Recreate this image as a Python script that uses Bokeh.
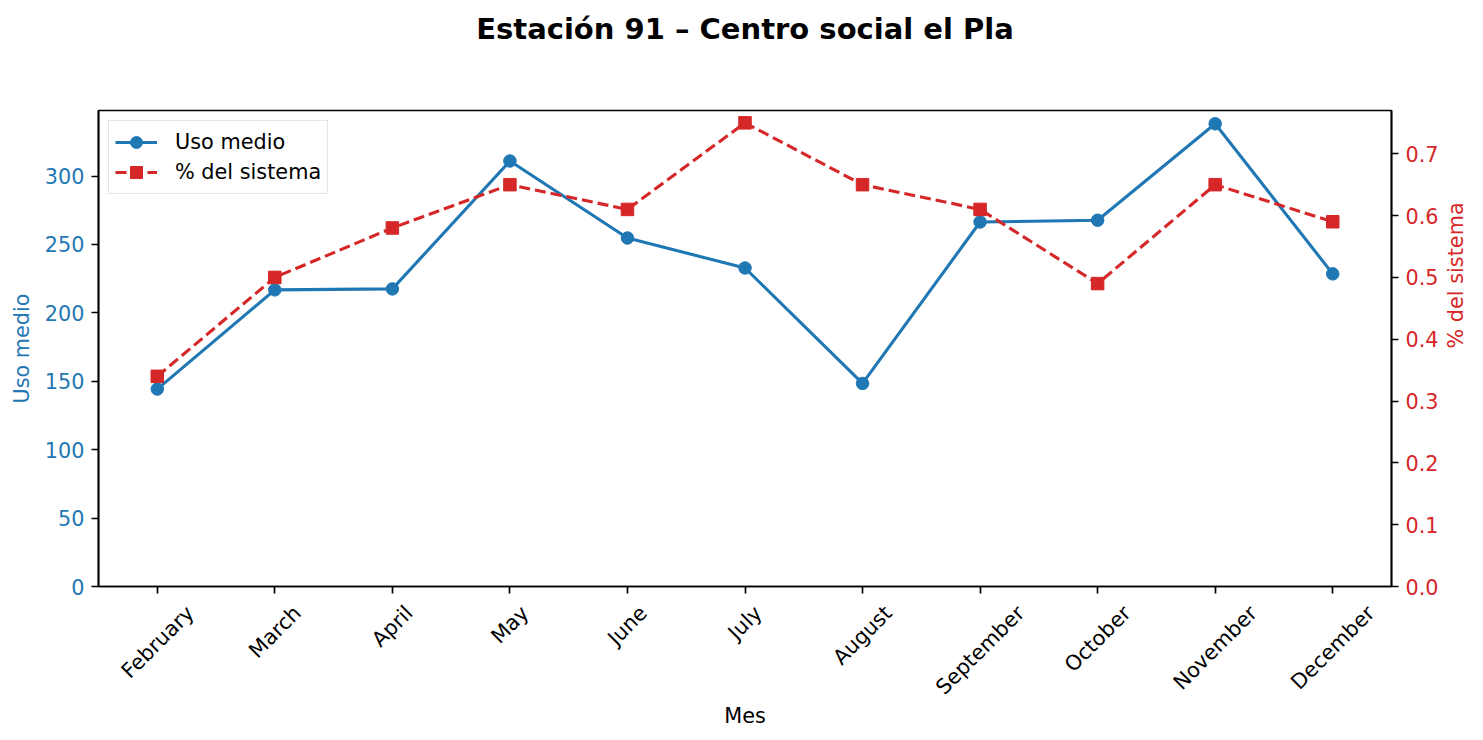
import math
from bokeh.plotting import figure
from bokeh.layouts import column
from bokeh.models import (Range1d, LinearAxis, FixedTicker, Legend, LegendItem,
                          ColumnDataSource, NumeralTickFormatter, CustomJSTickFormatter)
from bokeh.core.properties import value
from bokeh.embed import file_html
from bokeh.resources import INLINE

# ---- data ----
months = ["February", "March", "April", "May", "June", "July", "August",
          "September", "October", "November", "December"]
uso_medio = [144.3, 216.8, 217.5, 311.0, 254.7, 232.8, 148.4, 266.4, 267.7, 338.2, 228.5]
pct_sistema = [0.34, 0.50, 0.58, 0.65, 0.61, 0.75, 0.65, 0.61, 0.49, 0.65, 0.59]
left_ticks = [0, 50, 100, 150, 200, 250, 300]
right_ticks = [0.0, 0.1, 0.2, 0.3, 0.4, 0.5, 0.6, 0.7]

title_text = "Estación 91 – Centro social el Pla"
x_label = "Mes"
left_label = "Uso medio"
right_label = "% del sistema"

# ---- style ----
BLUE = "#1f77b4"
RED = "#d62728"
FONT = "DejaVu Sans"
FS = 20.8
FSPX = "20.8px"
LW_AX = 1.7
FRAME_W = 1293
TITLE_H = 60

# approximate DejaVu Sans advance widths (em), used only to centre rotated labels
CHAR_W = {"F": 0.575, "e": 0.615, "b": 0.635, "r": 0.411, "u": 0.634, "a": 0.613,
          "y": 0.592, "M": 0.863, "c": 0.550, "h": 0.634, "A": 0.684, "p": 0.635,
          "i": 0.278, "l": 0.278, "J": 0.295, "n": 0.634, "g": 0.635, "s": 0.521,
          "t": 0.392, "S": 0.635, "m": 0.974, "O": 0.787, "o": 0.612, "N": 0.748,
          "v": 0.592, "D": 0.770}


def text_w(s):
    return sum(CHAR_W.get(c, 0.6) for c in s) * FS


xs = list(range(len(months)))

# ---- title strip ----
tf = figure(width=1483, height=TITLE_H, output_backend="svg", toolbar_location=None,
            x_range=Range1d(0, 1), y_range=Range1d(0, TITLE_H),
            x_axis_location=None, y_axis_location=None, min_border=0)
tf.outline_line_color = None
tf.xgrid.visible = False
tf.ygrid.visible = False
tf.text(x=[0.5], y=[TITLE_H - 28], text=[title_text], text_align="center",
        text_baseline="middle", text_font=value(FONT), text_font_size=value("29px"),
        text_font_style="bold", text_color="black")

# ---- main chart ----
p = figure(width=1483, height=740 - TITLE_H, output_backend="svg", toolbar_location=None,
           x_range=Range1d(-0.5, len(months) - 0.5),
           y_range=Range1d(0, 347.9),
           min_border_left=98, min_border_right=92,
           min_border_top=110 - TITLE_H, min_border_bottom=154)

p.xgrid.visible = False
p.ygrid.visible = False
p.outline_line_color = "black"
p.outline_line_width = LW_AX
p.background_fill_color = "white"
p.border_fill_color = "white"

p.extra_y_ranges = {"pct": Range1d(0, 0.770)}

# x axis: ticks only
xa = p.xaxis[0]
xa.ticker = FixedTicker(ticks=xs)
xa.major_label_text_font_size = "0px"
xa.major_label_text_color = None

# second x axis: rotated month names, centred under ticks like matplotlib
px_per_unit = FRAME_W / len(months)
label_pos = [x + text_w(m) * math.cos(math.pi / 4) / 2 / px_per_unit
             for x, m in zip(xs, months)]
la = LinearAxis(ticker=FixedTicker(ticks=label_pos),
                formatter=CustomJSTickFormatter(args=dict(names=months),
                                                code="return names[index];"))
la.major_label_orientation = math.pi / 4
la.axis_line_color = None
la.major_tick_line_color = None
la.minor_tick_line_color = None
la.major_tick_out = 0
la.major_tick_in = 0
la.major_label_standoff = 16
la.major_label_text_font = FONT
la.major_label_text_font_size = FSPX
la.major_label_text_color = "black"
la.axis_label = x_label
la.axis_label_text_font = FONT
la.axis_label_text_font_size = FSPX
la.axis_label_text_font_style = "normal"
la.axis_label_text_color = "black"
la.axis_label_standoff = -7
p.add_layout(la, "below")

# left axis
ya = p.yaxis[0]
ya.ticker = FixedTicker(ticks=left_ticks)
ya.major_label_text_color = BLUE
ya.axis_label = left_label
ya.axis_label_text_color = BLUE
ya.axis_label_standoff = 8

# right axis
ra = LinearAxis(y_range_name="pct", ticker=FixedTicker(ticks=right_ticks),
                formatter=NumeralTickFormatter(format="0.0"))
ra.major_label_text_color = RED
ra.axis_label = right_label
ra.axis_label_text_color = RED
ra.axis_label_standoff = 14
if "axis_label_orientation" in ra.properties():
    ra.axis_label_orientation = math.pi / 2
p.add_layout(ra, "right")

for ax in [xa, ya, ra]:
    ax.axis_line_width = LW_AX
    ax.axis_line_color = "black"
    ax.major_tick_line_width = LW_AX
    ax.major_tick_line_color = "black"
    ax.major_tick_out = 7
    ax.major_tick_in = 0
    ax.minor_tick_line_color = None
    ax.major_label_standoff = 7
    ax.major_label_text_font = FONT
    if ax is not xa:
        ax.major_label_text_font_size = FSPX
    ax.axis_label_text_font = FONT
    ax.axis_label_text_font_size = FSPX
    ax.axis_label_text_font_style = "normal"

src = ColumnDataSource(dict(x=xs, uso=uso_medio, pct=pct_sistema))
l1 = p.line("x", "uso", source=src, line_color=BLUE, line_width=3.1)
s1 = p.scatter("x", "uso", source=src, marker="circle", size=12.5,
               fill_color=BLUE, line_color=BLUE)
l2 = p.line("x", "pct", source=src, y_range_name="pct", line_color=RED,
            line_width=3.1, line_dash="11 5")
s2 = p.scatter("x", "pct", source=src, y_range_name="pct", marker="square",
               size=12.5, fill_color=RED, line_color=RED)

legend = Legend(items=[LegendItem(label=left_label, renderers=[l1, s1]),
                       LegendItem(label=right_label, renderers=[l2, s2])],
                location="top_left")
legend.label_text_font = FONT
legend.label_text_font_size = FSPX
legend.label_text_color = "black"
legend.glyph_width = 42
legend.glyph_height = 30
legend.label_height = 20
legend.spacing = 0
legend.padding = 6
legend.margin = 10
legend.label_standoff = 18
legend.border_line_color = "#cccccc"
legend.border_line_width = 1.7
legend.background_fill_alpha = 0.8
p.add_layout(legend)

layout = column(tf, p, spacing=0)
open("out.html", "w").write(file_html(layout, INLINE))
